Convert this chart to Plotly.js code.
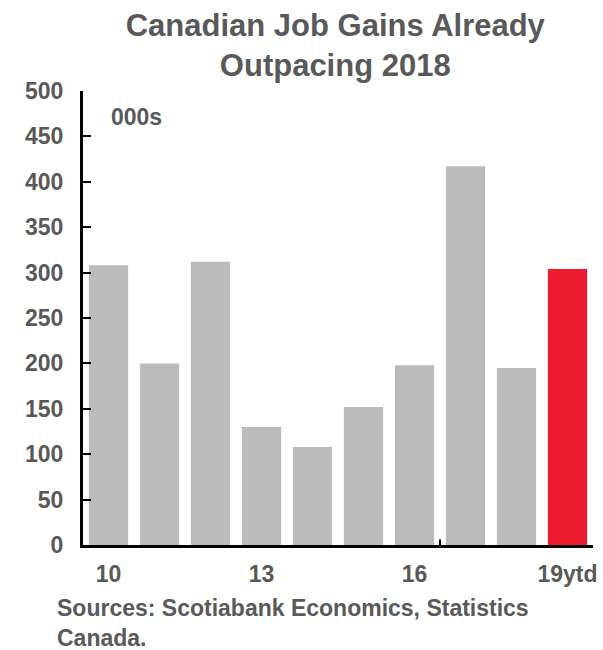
<!DOCTYPE html>
<html>
<head>
<meta charset="utf-8">
<script src="https://cdn.plot.ly/plotly-3.0.1.min.js"></script>
<style>html,body{margin:0;padding:0;background:#fff;}#chart{width:603px;height:650px;}</style>
</head>
<body>
<div id="chart"></div>
<script>
const categories = ["10","11","12","13","14","15","16","17","18","19ytd"];
const jobGains = [308, 200, 312, 130, 108, 152, 198, 417, 195, 304];
const barColors = ["#BBBBBB","#BBBBBB","#BBBBBB","#BBBBBB","#BBBBBB","#BBBBBB","#BBBBBB","#BBBBBB","#BBBBBB","#ED1B2E"];
const xTickLabels = ["10","13","16","19ytd"];
const yTicks = [0,50,100,150,200,250,300,350,400,450,500];

const textColor = "#595959";
const fontFam = "Liberation Sans, Arial, sans-serif";

const trace = {
  type: "bar",
  x: categories,
  y: jobGains,
  marker: {color: barColors},
  hoverinfo: "x+y"
};

const layout = {
  width: 603, height: 650,
  margin: {l: 83, r: 10, t: 91, b: 105},
  paper_bgcolor: "#fff", plot_bgcolor: "#fff",
  bargap: 0.23,
  showlegend: false,
  font: {family: fontFam, color: textColor},
  title: {
    text: "<b>Canadian Job Gains Already<br>Outpacing 2018</b>",
    font: {family: fontFam, size: 31, color: textColor},
    x: 0.556, xref: "container", xanchor: "center",
    y: 0.945, yref: "container", yanchor: "middle"
  },
  xaxis: {
    type: "category",
    tickvals: xTickLabels,
    ticktext: xTickLabels.map(t => "<b>" + t + "</b>"),
    ticks: "",
    showline: true, linecolor: "#000", linewidth: 3,
    showgrid: false, zeroline: false,
    tickfont: {family: fontFam, size: 23, color: textColor},
    ticklabelstandoff: 6,
    range: [-0.5, 9.5]
  },
  yaxis: {
    range: [0, 500],
    tickvals: yTicks,
    ticktext: yTicks.map(t => "<b>" + t + "</b>"),
    ticks: "inside", ticklen: 8, tickwidth: 2, tickcolor: "#000",
    showline: true, linecolor: "#000", linewidth: 3,
    showgrid: false, zeroline: false,
    tickfont: {family: fontFam, size: 23, color: textColor},
    ticklabelstandoff: 12
  },
  shapes: [{
    type: "line", xref: "x", yref: "y",
    x0: 6.5, x1: 6.5, y0: 0, y1: 6,
    line: {color: "#000", width: 2}
  }],
  annotations: [
    {
      text: "<b>000s</b>", xref: "paper", yref: "paper",
      x: 0.051, y: 0.943, xanchor: "left", yanchor: "middle",
      showarrow: false, font: {family: fontFam, size: 23, color: textColor}
    },
    {
      text: "<b>Sources: Scotiabank Economics, Statistics<br>Canada.</b>",
      xref: "paper", yref: "paper",
      x: -0.054, y: -0.172, xanchor: "left", yanchor: "middle", align: "left",
      showarrow: false, font: {family: fontFam, size: 23, color: textColor}
    }
  ]
};

Plotly.newPlot("chart", [trace], layout, {displayModeBar: false, staticPlot: true});
</script>
</body>
</html>
